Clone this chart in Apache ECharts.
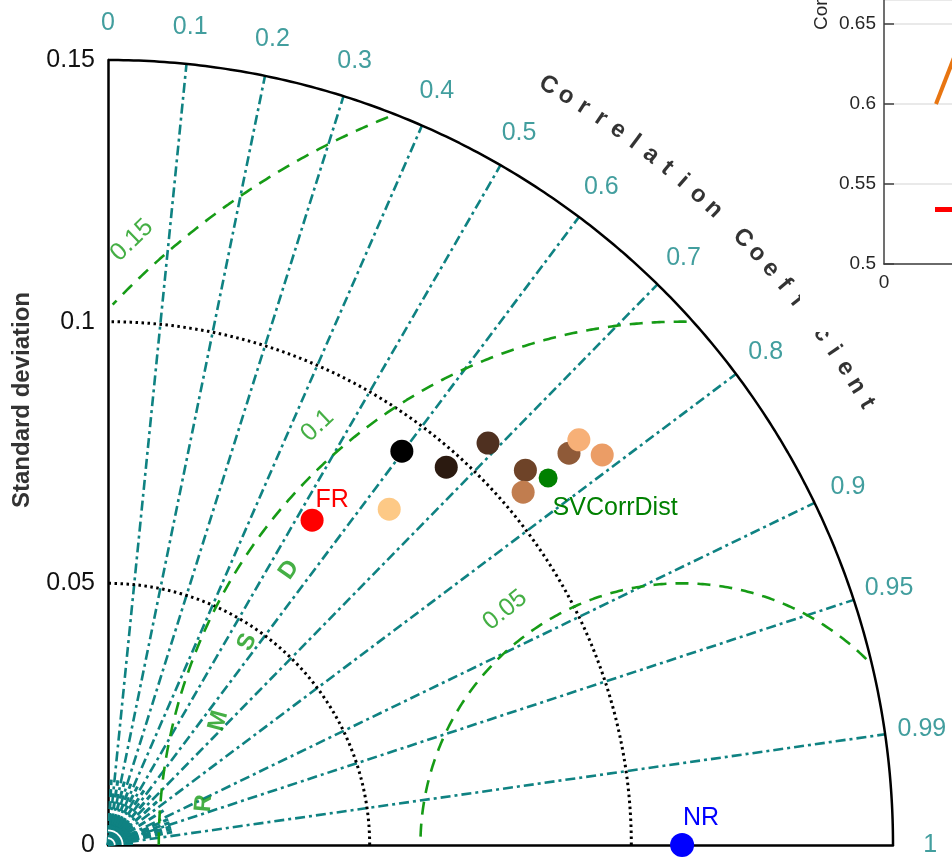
<!DOCTYPE html>
<html><head><meta charset="utf-8">
<script src="https://cdn.jsdelivr.net/npm/echarts@6/dist/echarts.min.js"></script>
<style>html,body{margin:0;padding:0;background:#fff}#c{width:952px;height:858px}</style>
</head><body><div id="c"></div>
<script>
// ---------- data ----------
const stdMax = 0.15;
const stdTicks = [0, 0.05, 0.1, 0.15];
const stdArcs = [0.05, 0.1];
const corrLines = [0.1, 0.2, 0.3, 0.4, 0.5, 0.6, 0.7, 0.8, 0.9, 0.95, 0.99];
const corrTickValues = [0, 0.1, 0.2, 0.3, 0.4, 0.5, 0.6, 0.7, 0.8, 0.9, 0.95, 0.99, 1];
const corrTickLabels = ['0', '0.1', '0.2', '0.3', '0.4', '0.5', '0.6', '0.7', '0.8', '0.9', '0.95', '0.99', '1'];
const minorCorr = [0.05, 0.15, 0.25, 0.35, 0.45, 0.55, 0.65, 0.75, 0.85, 0.92, 0.94, 0.96, 0.97, 0.98];
const rmsArcs = [0.05, 0.1, 0.15];
const rmsLabels = ['0.05', '0.1', '0.15'];
const rmsTitle = ['R', 'M', 'S', 'D'];
const refStd = 0.1097;
const corrTitle = 'Correlation Coefficient';
const yTitle = 'Standard deviation';

const pointNames = ['', '', '', '', '', 'SVCorrDist', '', '', '', '', 'FR', 'NR'];
const pointStd   = [0.0939, 0.0969, 0.1057, 0.1072, 0.1041, 0.1095, 0.1156, 0.1187, 0.1203, 0.0837, 0.0733, 0.1097];
const pointCorr  = [0.598, 0.667, 0.687, 0.744, 0.762, 0.768, 0.762, 0.758, 0.785, 0.642, 0.532, 1.0];

// inset (partial neighbouring chart)
const insetTitle = 'Correlation';
const insetYMin = 0.5, insetYMax = 0.665, insetXMax = 0.34;
const insetOrangeX = [0.26, 0.40];
const insetOrangeY = [0.600, 0.645];
const insetRedX = [0.255, 0.40];
const insetRedY = [0.534, 0.534];

// ---------- styles ----------
const pointColors = ['#000000', '#2b1a10', '#4f3020', '#6e4328', '#c17d4f', '#008000', '#8f5a38', '#f7b077', '#eb9d66', '#fdc986', '#ff0000', '#0000ff'];
const pointSizes  = [23, 23, 23, 23, 23, 19, 23, 23, 23, 23, 23, 24];
const labelOffsets = {FR: [20, -20], SVCorrDist: [67, 30], NR: [19, -27]};
const rmsLabelAngles = [127, 131, 132.3];
const TEAL = '#0f8282', TEAL_TXT = '#138686', GREEN = '#169b16';
const FONT = "'Liberation Sans', Arial, sans-serif";
const FS = 25;

// ---------- helpers ----------
const rad = d => d * Math.PI / 180;
const polarPt = (r, deg) => [r * Math.cos(rad(deg)), r * Math.sin(rad(deg))];
const corrPt = (r, c) => { const a = Math.acos(c); return [r * Math.cos(a), r * Math.sin(a)]; };
function arcPts(r, a0, a1, n) { const p = []; for (let i = 0; i <= n; i++) p.push(polarPt(r, a0 + (a1 - a0) * i / n)); return p; }

const series = [];
const base = {xAxisIndex: 0, yAxisIndex: 0, clip: false, silent: true, animation: false};

// quarter disk near origin
series.push(Object.assign({type: 'line', data: arcPts(0.0048, 0, 90, 30), symbol: 'none',
  lineStyle: {width: 0}, areaStyle: {color: TEAL, origin: 'start', opacity: 1}, z: 2}, base));
[0.0013, 0.0028].forEach(r => series.push(Object.assign({type: 'line', data: arcPts(r, 0, 90, 30), symbol: 'none',
  lineStyle: {color: '#fff', width: 1.8}, z: 3}, base)));
// minor fan lines
minorCorr.forEach(c => series.push(Object.assign({type: 'line', data: [[0, 0], corrPt(0.0125, c)], symbol: 'none',
  lineStyle: {color: TEAL, width: 3, type: [8, 4]}, z: 2}, base)));
// correlation lines
corrLines.forEach(c => series.push(Object.assign({type: 'line', data: [[0, 0], corrPt(stdMax, c)], symbol: 'none',
  lineStyle: {color: TEAL, width: 2.6, type: [10, 4, 3, 4]}, z: 2}, base)));
// std dotted arcs
stdArcs.forEach(r => series.push(Object.assign({type: 'line', data: arcPts(r, 0, 90, 180), symbol: 'none',
  lineStyle: {color: '#000', width: 3, type: [2.5, 3.5]}, z: 3}, base)));
// outer arc
series.push(Object.assign({type: 'line', data: arcPts(stdMax, 0, 90, 240), symbol: 'none',
  lineStyle: {color: '#000', width: 2.5}, z: 4}, base));
// RMSD arcs
rmsArcs.forEach(r => {
  const pts = [];
  for (let i = 0; i <= 720; i++) {
    const a = rad(180 * i / 720);
    const x = refStd + r * Math.cos(a), y = r * Math.sin(a);
    if (x >= 0.0008 && Math.hypot(x, y) <= stdMax * 0.995) pts.push([x, y]);
  }
  series.push(Object.assign({type: 'line', data: pts, symbol: 'none',
    lineStyle: {color: GREEN, width: 2.6, type: [13, 9]}, z: 3}, base));
});
// correlation tick labels
series.push(Object.assign({type: 'scatter', symbolSize: 0, z: 5,
  data: corrTickValues.map((c, i) => ({value: corrPt(0.1571, c), name: corrTickLabels[i]})),
  label: {show: true, position: 'inside', formatter: p => p.name, color: TEAL_TXT, fontSize: FS, fontFamily: FONT}}, base));
// title along arc
series.push(Object.assign({type: 'scatter', symbolSize: 0, z: 5,
  data: corrTitle.split('').map((ch, i) => {
    const th = 59.9 - 1.35 * i;
    return {value: polarPt(0.1678, th), name: ch, label: {rotate: th - 90}};
  }),
  label: {show: true, position: 'inside', formatter: p => p.name, color: '#000', fontSize: 24, fontWeight: 'bold', fontFamily: FONT}}, base));
// RMSD labels
series.push(Object.assign({type: 'scatter', symbolSize: 0, z: 5,
  data: rmsArcs.map((r, i) => {
    const a = rmsLabelAngles[i];
    return {value: [refStd + (r + 0.0062) * Math.cos(rad(a)), (r + 0.0062) * Math.sin(rad(a))], name: rmsLabels[i], label: {rotate: a - 88}};
  }),
  label: {show: true, position: 'inside', formatter: p => p.name, color: GREEN, fontSize: FS, fontFamily: FONT}}, base));
// RMSD title letters
series.push(Object.assign({type: 'scatter', symbolSize: 0, z: 5,
  data: rmsTitle.map((ch, i) => {
    const a = 175 - 10 * i;
    return {value: [refStd + 0.0917 * Math.cos(rad(a)), 0.0917 * Math.sin(rad(a))], name: ch, label: {rotate: a - 90}};
  }),
  label: {show: true, position: 'inside', formatter: p => p.name, color: GREEN, fontSize: 24, fontWeight: 'bold', fontFamily: FONT}}, base));
// model points
series.push(Object.assign({type: 'scatter', z: 6,
  data: pointStd.map((s, i) => {
    const nm = pointNames[i];
    return {value: corrPt(s, pointCorr[i]), name: nm, symbolSize: pointSizes[i],
      itemStyle: {color: pointColors[i], opacity: 1},
      label: {show: !!nm, position: 'inside', offset: labelOffsets[nm] || [0, 0], color: pointColors[i], fontSize: FS, fontFamily: FONT, formatter: p => p.name}};
  })}, base));

// inset series
const insetBase = {xAxisIndex: 1, yAxisIndex: 1, silent: true, animation: false, zlevel: 2, symbol: 'none', clip: true};
series.push(Object.assign({type: 'line', data: insetOrangeX.map((x, i) => [x, insetOrangeY[i]]),
  lineStyle: {color: '#e87511', width: 4}}, insetBase));
series.push(Object.assign({type: 'line', data: insetRedX.map((x, i) => [x, insetRedY[i]]),
  lineStyle: {color: '#ff0000', width: 5}}, insetBase));

const chart = echarts.init(document.getElementById('c'), null, {renderer: 'canvas'});
chart.setOption({
  backgroundColor: '#fff',
  animation: false,
  grid: [
    {left: 108, right: 59, top: 60, bottom: 13},
    {left: 884, right: 0, top: 0, bottom: 594}
  ],
  xAxis: [
    {type: 'value', min: 0, max: stdMax, gridIndex: 0, axisLine: {show: true, lineStyle: {color: '#000', width: 2.5}},
      axisTick: {show: false}, axisLabel: {show: false}, splitLine: {show: false}},
    {type: 'value', min: 0, max: insetXMax, gridIndex: 1, zlevel: 2, axisLine: {show: true, lineStyle: {color: '#404040', width: 1.5}},
      axisTick: {show: false}, splitLine: {show: false},
      axisLabel: {color: '#262626', fontSize: 19, fontFamily: FONT, margin: 9, showMaxLabel: false, formatter: v => v === 0 ? '0' : ''}}
  ],
  yAxis: [
    {type: 'value', min: 0, max: stdMax, interval: 0.05, gridIndex: 0,
      axisLine: {show: true, lineStyle: {color: '#000', width: 2.5}}, axisTick: {show: false}, splitLine: {show: false},
      axisLabel: {color: '#111', fontSize: FS, fontFamily: FONT, margin: 13}},
    {type: 'value', min: insetYMin, max: insetYMax, interval: 0.05, gridIndex: 1, zlevel: 2,
      axisLine: {show: true, lineStyle: {color: '#404040', width: 1.5}},
      axisTick: {show: true, inside: true, length: 10, lineStyle: {color: '#404040', width: 1.5}},
      splitLine: {show: true, lineStyle: {color: '#e2e2e2', width: 1.5}},
      axisLabel: {color: '#262626', fontSize: 19, fontFamily: FONT, margin: 8, showMaxLabel: false}}
  ],
  graphic: [
    {type: 'text', x: 22, y: 400, rotation: Math.PI / 2, z: 10,
      style: {text: yTitle, fill: '#333', font: "bold 24px 'Liberation Sans', Arial", textAlign: 'center', textVerticalAlign: 'middle'}},
    {type: 'rect', zlevel: 1, shape: {x: 800, y: 0, width: 152, height: 332}, style: {fill: '#fff'}, silent: true},
    {type: 'text', zlevel: 2, x: 822, y: 30, rotation: Math.PI / 2,
      style: {text: insetTitle, fill: '#262626', font: "19px 'Liberation Sans', Arial", textAlign: 'left', textVerticalAlign: 'middle'}}
  ],
  series: series
});
</script></body></html>
